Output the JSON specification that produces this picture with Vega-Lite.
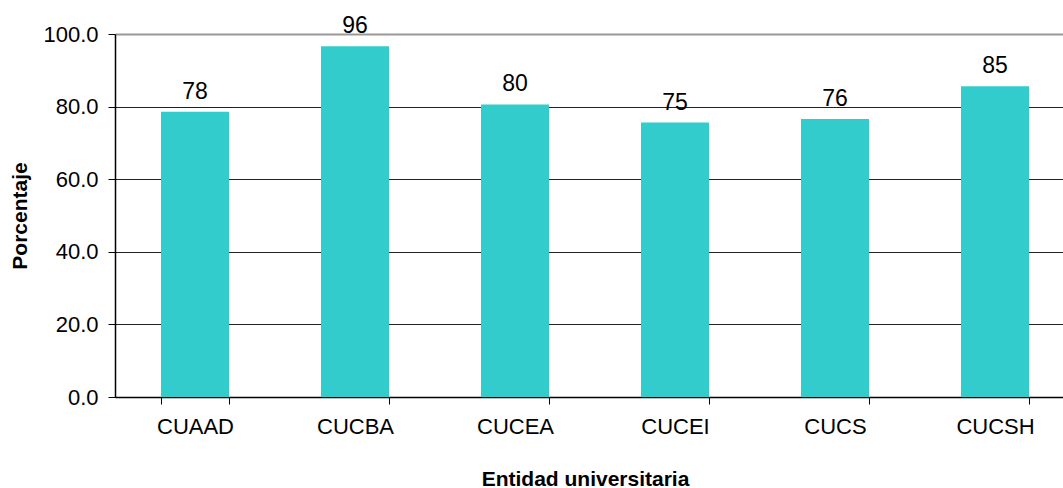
{
  "$schema": "https://vega.github.io/schema/vega-lite/v6.json",
  "autosize": "none",
  "width": 960,
  "height": 363,
  "padding": {"left": 115, "top": 34, "right": 0, "bottom": 91},
  "background": "white",
  "config": {
    "view": {"stroke": null},
    "font": "Liberation Sans"
  },
  "data": {
    "values": [
      {"entidad": "CUAAD", "porcentaje": 78.6, "etiqueta": "78"},
      {"entidad": "CUCBA", "porcentaje": 96.6, "etiqueta": "96"},
      {"entidad": "CUCEA", "porcentaje": 80.6, "etiqueta": "80"},
      {"entidad": "CUCEI", "porcentaje": 75.6, "etiqueta": "75"},
      {"entidad": "CUCS", "porcentaje": 76.6, "etiqueta": "76"},
      {"entidad": "CUCSH", "porcentaje": 85.6, "etiqueta": "85"}
    ]
  },
  "encoding": {
    "x": {
      "field": "entidad",
      "type": "nominal",
      "sort": null,
      "scale": {"paddingInner": 0.575, "paddingOuter": 0.2875},
      "axis": {
        "title": "Entidad universitaria",
        "titleFont": "Liberation Sans",
        "titleFontSize": 21,
        "titleFontWeight": "bold",
        "titleColor": "black",
        "titleX": 470,
        "titleY": 82,
        "titleBaseline": "middle",
        "titleAnchor": null,
        "labelAngle": 0,
        "labelFont": "Liberation Sans",
        "labelFontSize": 22,
        "labelColor": "black",
        "labelBaseline": "middle",
        "labelPadding": 22,
        "tickBand": "extent",
        "tickSize": 7,
        "tickColor": "black",
        "domainColor": "black",
        "domainWidth": 1.5,
        "grid": false
      }
    },
    "y": {
      "field": "porcentaje",
      "type": "quantitative",
      "scale": {"domain": [0, 100], "nice": false, "zero": true},
      "axis": {
        "title": "Porcentaje",
        "titleFont": "Liberation Sans",
        "titleFontSize": 21,
        "titleFontWeight": "bold",
        "titleColor": "black",
        "titleX": -95,
        "titleY": 181.5,
        "titleAngle": -90,
        "titleBaseline": "middle",
        "titleAnchor": null,
        "values": [0, 20, 40, 60, 80, 100],
        "format": ".1f",
        "labelFont": "Liberation Sans",
        "labelFontSize": 22,
        "labelColor": "black",
        "labelPadding": 10,
        "tickSize": 7,
        "tickColor": "black",
        "domainColor": "black",
        "domainWidth": 1.5,
        "grid": true,
        "gridColor": {"condition": {"test": "datum.value === 100", "value": "#999999"}, "value": "#222222"},
        "gridWidth": {"condition": {"test": "datum.value === 100", "value": 2}, "value": 1}
      }
    }
  },
  "layer": [
    {
      "mark": {"type": "bar", "color": "#33CCCC"}
    },
    {
      "mark": {
        "type": "text",
        "baseline": "alphabetic",
        "align": "center",
        "dy": -13,
        "fontSize": 23,
        "font": "Liberation Sans",
        "color": "black"
      },
      "encoding": {"text": {"field": "etiqueta", "type": "nominal"}}
    }
  ]
}
